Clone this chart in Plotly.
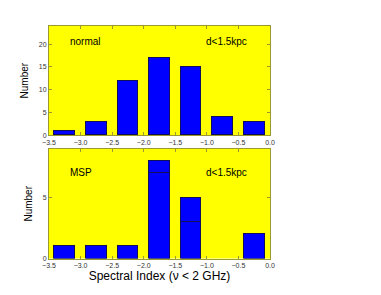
import plotly.graph_objects as go

bin_centers = [-3.25, -2.75, -2.25, -1.75, -1.25, -0.75, -0.25]
normal_counts = [1, 3, 12, 17, 15, 4, 3]
msp_lower = [1, 1, 1, 7, 3, None, 2]
msp_upper = [None, None, None, 1, 2, None, None]

FONT = "Liberation Sans, Arial, sans-serif"
bar_style = dict(marker=dict(color="#0000ff", line=dict(color="#10105a", width=1)),
                 width=0.33, showlegend=False)

fig = go.Figure()
fig.add_trace(go.Bar(x=bin_centers, y=normal_counts, xaxis="x", yaxis="y", **bar_style))
fig.add_trace(go.Bar(x=bin_centers, y=msp_lower, xaxis="x2", yaxis="y2", **bar_style))
fig.add_trace(go.Bar(x=bin_centers, y=msp_upper, xaxis="x2", yaxis="y2", **bar_style))

W, H = 381, 295
xdom = [41/W, 262/W]
axis_common = dict(showgrid=False, zeroline=False, showline=True, linecolor="#9a9a30",
                   linewidth=1, mirror="ticks", ticks="inside", tickcolor="#9a9a30",
                   ticklen=3, automargin=False,
                   tickfont=dict(size=7, color="#333333", family=FONT))

fig.update_layout(
    width=W, height=H,
    margin=dict(l=0, r=0, t=0, b=0),
    paper_bgcolor="white", plot_bgcolor="#ffff00",
    barmode="stack", bargap=0,
    font=dict(family=FONT, color="black"),
    xaxis=dict(domain=xdom, anchor="y", range=[-3.5, 0], dtick=0.5, tickformat=".1f", **axis_common),
    yaxis=dict(domain=[1-127.3/H, 1-18/H], anchor="x", range=[0, 24], dtick=5,
               title=dict(text="Number", font=dict(size=10), standoff=8), **axis_common),
    xaxis2=dict(domain=xdom, anchor="y2", range=[-3.5, 0], dtick=0.5, tickformat=".1f",
                title=dict(text="Spectral Index (ν < 2 GHz)", font=dict(size=12), standoff=2),
                **axis_common),
    yaxis2=dict(domain=[1-250.5/H, 1-141/H], anchor="x2", range=[0, 9], dtick=5,
                title=dict(text="Number", font=dict(size=10), standoff=8), **axis_common),
)

ann = dict(showarrow=False, font=dict(size=10, family=FONT, color="black"), xanchor="left", yanchor="middle")
fig.add_annotation(text="normal", xref="x", yref="y", x=-3.2, y=20.5, **ann)
fig.add_annotation(text="d<1.5kpc", xref="x", yref="y", x=-1.05, y=20.5, **ann)
fig.add_annotation(text="MSP", xref="x2", yref="y2", x=-3.2, y=7.1, **ann)
fig.add_annotation(text="d<1.5kpc", xref="x2", yref="y2", x=-1.05, y=7.1, **ann)

fig.write_html("out.html")
